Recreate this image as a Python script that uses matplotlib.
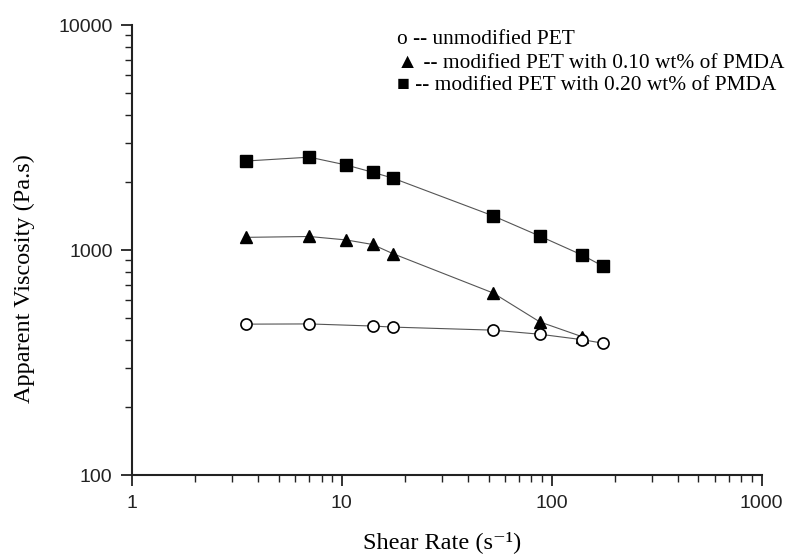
import matplotlib
matplotlib.use("Agg")
import matplotlib.pyplot as plt
from matplotlib.ticker import LogLocator, FixedLocator, NullFormatter

shear_sq = [3.5, 7.0, 10.5, 14.0, 17.5, 52.6, 87.7, 140, 175]
visc_sq = [2490, 2590, 2390, 2220, 2090, 1420, 1155, 950, 850]

shear_tri = [3.5, 7.0, 10.5, 14.0, 17.5, 52.6, 87.7, 140]
visc_tri = [1140, 1150, 1110, 1060, 965, 645, 480, 412]

shear_circ = [3.5, 7.0, 14.0, 17.5, 52.6, 87.7, 140, 175]
visc_circ = [469, 470, 460, 455, 441, 423, 400, 386]

x_ticks = [1, 10, 100, 1000]
x_labels = ["1", "10", "100", "1000"]
y_ticks = [100, 1000, 10000]
y_labels = ["100", "1000", "10000"]

legend_texts = ["o -- unmodified PET",
                "\u25B2 -- modified PET with 0.10 wt% of PMDA",
                "\u25A0 -- modified PET with 0.20 wt% of PMDA"]

fig = plt.figure(figsize=(7.87, 5.59), dpi=100)
ax = fig.add_axes([0.1677, 0.150, 0.800, 0.805])

lc = '#555555'
ax.plot(shear_sq, visc_sq, '-', color=lc, lw=0.8, marker='s', ms=8,
        mfc='black', mec='black', zorder=3)
ax.plot(shear_tri, visc_tri, '-', color=lc, lw=0.8, marker='^', ms=9,
        mfc='black', mec='black', zorder=3)
ax.plot(shear_circ, visc_circ, '-', color=lc, lw=0.8, marker='o', ms=8,
        mfc='white', mec='black', mew=1.2, zorder=3)

ax.set_xscale('log')
ax.set_yscale('log')
ax.set_xlim(1, 1000)
ax.set_ylim(100, 10000)

ax.xaxis.set_major_locator(FixedLocator(x_ticks))
ax.set_xticklabels(x_labels)
ax.yaxis.set_major_locator(FixedLocator(y_ticks))
ax.set_yticklabels(y_labels)
ax.xaxis.set_minor_locator(LogLocator(base=10, subs=range(2, 10)))
ax.yaxis.set_minor_locator(LogLocator(base=10, subs=range(2, 10)))
ax.xaxis.set_minor_formatter(NullFormatter())
ax.yaxis.set_minor_formatter(NullFormatter())

for s in ['top', 'right']:
    ax.spines[s].set_visible(False)
for s in ['left', 'bottom']:
    ax.spines[s].set_linewidth(1.5)
    ax.spines[s].set_color('#222222')

ax.tick_params(which='major', direction='out', length=8, width=1.3,
               labelsize=14, colors='#222222', pad=6)
ax.tick_params(which='minor', direction='out', length=5, width=1.0,
               colors='#222222')
for lab in ax.get_xticklabels() + ax.get_yticklabels():
    lab.set_family('Liberation Sans')

fig.text(442 / 787, 1 - 542 / 559, "Shear Rate (s\u207b\u00b9)",
         family=['Liberation Serif', 'DejaVu Serif'], fontsize=17.5,
         ha='center', va='center')
fig.text(24 / 787, 1 - 279 / 559, "Apparent Viscosity (Pa.s)",
         family='Liberation Serif', fontsize=17.5, ha='center', va='center',
         rotation=90)

ys = [1 - 40 / 559, 1 - 63 / 559, 1 - 85 / 559]
for t, y in zip(legend_texts, ys):
    fig.text(0.505, y, t, family=['Liberation Serif', 'DejaVu Sans'],
             fontsize=15.4, va='center', ha='left')

fig.savefig("out.png", dpi=100)
